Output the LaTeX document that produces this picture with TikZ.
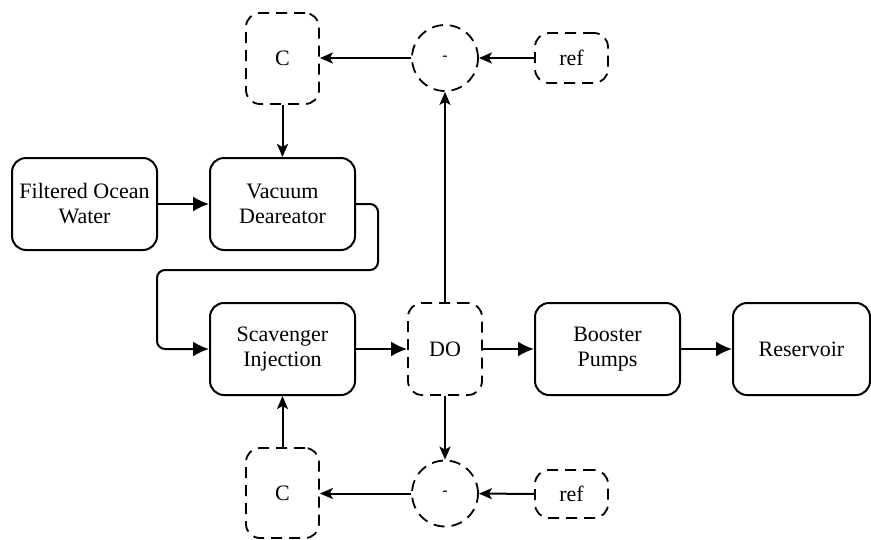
\documentclass[tikz,border=0pt]{standalone}
\usepackage{fontspec}
\setmainfont{Liberation Serif}
\usetikzlibrary{arrows.meta}
\begin{document}
\begin{tikzpicture}[x=1pt,y=-1pt,
  proc/.style={draw, line width=2pt, rounded corners=14pt, minimum width=145pt, minimum height=92pt, align=center, inner sep=0pt, font=\fontsize{22}{25}\selectfont},
  ctl/.style={draw, line width=1.8pt, dash pattern=on 11pt off 7pt, rounded corners=14pt, inner sep=0pt, align=center, font=\fontsize{22}{25}\selectfont},
  sumc/.style={draw, circle, line width=1.8pt, dash pattern=on 11pt off 7pt, minimum size=66pt, inner sep=0pt, font=\fontsize{16}{18}\selectfont},
  flow/.style={line width=2pt, -{Latex[length=16pt,width=15pt]}},
  sig/.style={line width=2pt, -{Stealth[length=13pt,width=11pt,inset=3pt]}}]
\useasboundingbox (0,0) rectangle (871,539);
\node[proc] (fow) at (84.5,204) {Filtered Ocean\\Water};
\node[proc] (vd) at (282.5,204) {Vacuum\\Deareator};
\node[proc] (si) at (282.5,349) {Scavenger\\Injection};
\node[ctl, minimum width=74pt, minimum height=92pt] (do) at (445,349) {DO};
\node[proc] (bp) at (607.5,349) {Booster\\Pumps};
\node[proc, minimum width=137pt] (res) at (801.5,349) {Reservoir};
\node[ctl, minimum width=73pt, minimum height=91pt] (ct) at (282.5,58.5) {C};
\node[sumc] (mt) at (445,58) {-};
\node[ctl, minimum width=73pt, minimum height=50pt] (rt) at (571.5,58) {ref};
\node[ctl, minimum width=73pt, minimum height=90pt] (cb) at (282.5,493) {C};
\node[sumc] (mb) at (445,493.5) {-};
\node[ctl, minimum width=73pt, minimum height=48pt] (rb) at (571.5,494) {ref};
\coordinate (k1) at (378,204);
\coordinate (k2) at (378,270);
\coordinate (k3) at (157,270);
\coordinate (k4) at (157,349);
\draw[flow] (fow) -- (vd);
\draw[flow, rounded corners=8pt] (vd.east |- k1) -- (k1) -- (k2) -- (k3) -- (k4) -- (si.west);
\draw[flow] (si) -- (do);
\draw[flow] (do) -- (bp);
\draw[flow] (bp) -- (res);
\draw[sig] (do.north) -- (mt.south);
\draw[sig] (do.south) -- (mb.north);
\draw[sig] (rt) -- (mt);
\draw[sig] (mt) -- (ct.east |- mt);
\draw[sig] (ct) -- (vd);
\draw[sig] (rb) -- (mb);
\draw[sig] (mb) -- (cb.east |- mb);
\draw[sig] (cb) -- (si);
\end{tikzpicture}
\end{document}
